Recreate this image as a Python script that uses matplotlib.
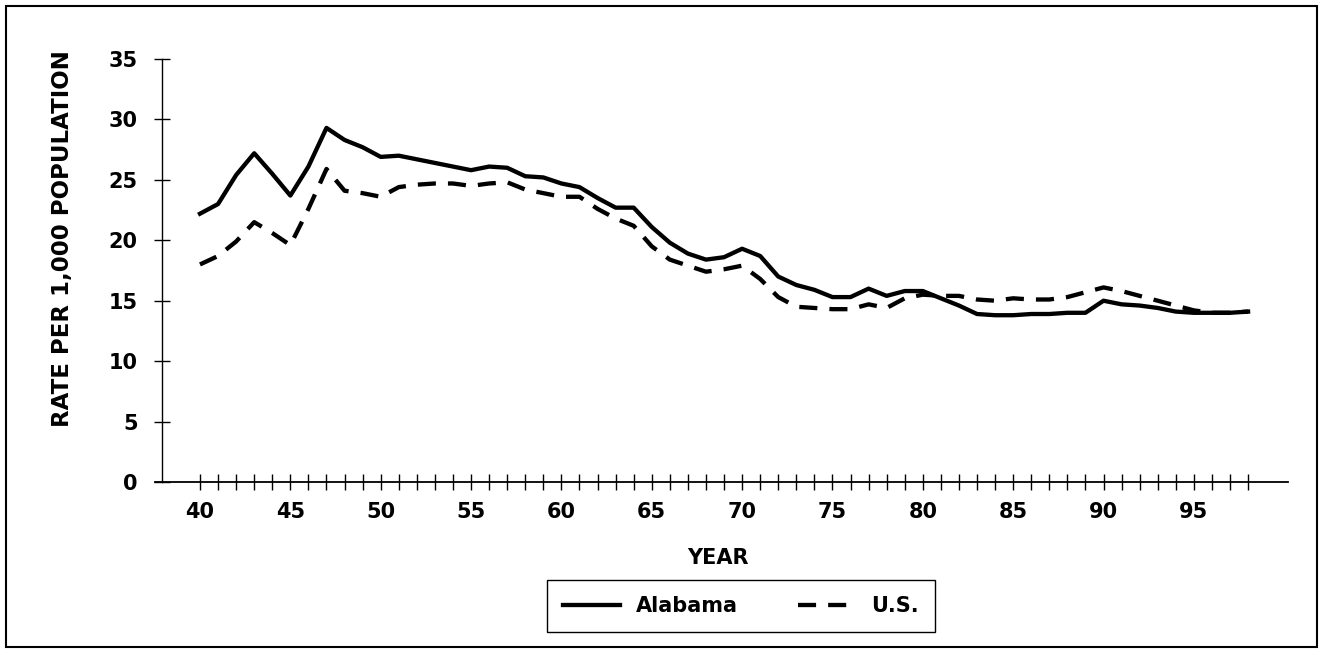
#!/usr/bin/env python
# -*- coding: utf-8 -*-

import sys
import matplotlib
matplotlib.use('Agg')
import matplotlib.pyplot as plt
from matplotlib.patches import Rectangle


years = list(range(40, 99))

alabama = [22.2, 23.0, 25.4, 27.2, 25.5, 23.7, 26.1, 29.3, 28.3, 27.7,
           26.9, 27.0, 26.7, 26.4, 26.1, 25.8, 26.1, 26.0, 25.3, 25.2,
           24.7, 24.4, 23.5, 22.7, 22.7, 21.1, 19.8, 18.9, 18.4, 18.6,
           19.3, 18.7, 17.0, 16.3, 15.9, 15.3, 15.3, 16.0, 15.4, 15.8,
           15.8, 15.2, 14.6, 13.9, 13.8, 13.8, 13.9, 13.9, 14.0, 14.0,
           15.0, 14.7, 14.6, 14.4, 14.1, 14.0, 14.0, 14.0, 14.1]

us = [18.0, 18.7, 19.9, 21.5, 20.6, 19.6, 22.6, 25.9, 24.1, 23.9,
      23.6, 24.4, 24.6, 24.7, 24.7, 24.5, 24.7, 24.8, 24.2, 23.9,
      23.6, 23.6, 22.6, 21.8, 21.2, 19.5, 18.4, 17.9, 17.4, 17.6,
      17.9, 16.8, 15.3, 14.5, 14.4, 14.3, 14.3, 14.7, 14.4, 15.2,
      15.5, 15.4, 15.4, 15.1, 15.0, 15.2, 15.1, 15.1, 15.3, 15.7,
      16.1, 15.8, 15.4, 15.0, 14.6, 14.2, 14.0, 14.0, 14.1]

y_ticks = [0, 5, 10, 15, 20, 25, 30, 35]
series_labels = ['Alabama', 'U.S.']


def main():

    plt.rcParams['font.family'] = ['DejaVu Sans']
    plt.rcParams['font.weight'] = 'bold'
    fsize = 15

    fig = plt.figure(figsize=(13.21, 6.57), dpi=100)
    ax = fig.add_axes([155/1321, 1-482/657, (1288-155)/1321, (482-59)/657])

    ax.plot(years, us, color='black', lw=3.1, dashes=(4.2, 2.8),
            label=series_labels[1], zorder=2)
    ax.plot(years, alabama, color='black', lw=3.1,
            label=series_labels[0], zorder=3)

    ax.set_xlim(37.51, 100.21)
    ax.set_ylim(0, 35)

    for side in ('top', 'right'):
        ax.spines[side].set_visible(False)
    ax.spines['left'].set_position(('data', 37.9))
    ax.spines['left'].set_linewidth(1.0)
    ax.spines['bottom'].set_linewidth(1.3)

    ax.set_xticks(years)
    ax.set_xticklabels([str(y) if y % 5 == 0 else '' for y in years])
    ax.set_yticks(y_ticks)
    ax.set_yticklabels([str(v) for v in y_ticks])
    ax.tick_params(axis='both', direction='inout', length=11, width=1.0,
                   labelsize=fsize, colors='black')
    ax.tick_params(axis='x', pad=9)
    ax.tick_params(axis='y', pad=12)

    fig.text(63/1321, 1-239/657, 'RATE PER 1,000 POPULATION', rotation=90,
             ha='center', va='center', fontsize=16.5, fontweight='bold')
    fig.text(718/1321, 1-558/657, 'YEAR', ha='center', va='center',
             fontsize=fsize, fontweight='bold')

    handles, labels = ax.get_legend_handles_labels()
    leg = fig.legend(handles[::-1], labels[::-1], ncol=2, loc='center',
                     bbox_to_anchor=(741/1321, 1-606/657), fontsize=fsize,
                     handlelength=2.74, handletextpad=0.77, columnspacing=2.9,
                     borderpad=0.75, fancybox=False, framealpha=1)
    leg.get_frame().set_edgecolor('black')
    leg.get_frame().set_linewidth(1.0)

    # scanned page border
    fig.patches.append(Rectangle((6/1321, 10/657), 1311/1321, 641/657,
                                 transform=fig.transFigure, fill=False,
                                 edgecolor='black', lw=1.5))

    fig.savefig('out.png', dpi=100, facecolor='white')
    return 0


if __name__ == '__main__':
    sys.exit(main())
